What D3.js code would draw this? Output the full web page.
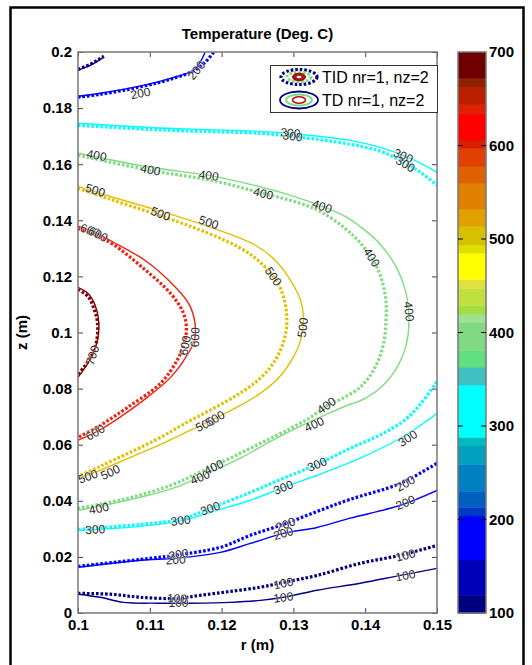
<!DOCTYPE html>
<html>
<head>
<meta charset="utf-8">
<script src="https://cdn.jsdelivr.net/npm/d3@7"></script>
<style>
  body { margin: 0; background: #fff; }
  svg { display: block; }
  text { font-family: "Liberation Sans", Arial, Helvetica, sans-serif; }
</style>
</head>
<body>
<svg id="chart" width="532" height="665"></svg>
<script>
// ---- contour levels and their line colours ----
const levels = [100, 200, 300, 400, 500, 600, 700];
const levelColors = ["#000080", "#0000ff", "#00ffff", "#80dc80", "#e0c000", "#f02010", "#800000"];

// ---- axis ticks ----
const rTicks = [0.1, 0.11, 0.12, 0.13, 0.14, 0.15];
const zTicks = [0, 0.02, 0.04, 0.06, 0.08, 0.1, 0.12, 0.14, 0.16, 0.18, 0.2];
const cbTicks = [100, 200, 300, 400, 500, 600, 700];

// ---- colorbar bands (edges in deg C, colour of each band bottom to top) ----
const cbEdges = [100, 119, 157, 204, 213, 230, 259, 279, 288, 344, 363, 381, 411, 420, 429, 447, 457,
                 485, 494, 514, 532, 560, 578, 597, 606, 634, 644, 663, 672, 700];
const cbColors = ["#000080", "#0000b8", "#0000ff", "#0038c8", "#0060c0", "#0080c0", "#00a0c0", "#00bcbc",
                  "#00ffff", "#40c0c0", "#60e080", "#80d880", "#a0e090", "#a0e040", "#c0e040", "#e0e040",
                  "#ffff00", "#e0e000", "#d8c000", "#e0a000", "#e08000", "#e06000", "#e04000", "#d82000",
                  "#ff0000", "#e02000", "#b82000", "#902000", "#700000"];

// ---- TD nr=1, nz=2 contours (solid), points are [r (m), z (m)] ----
const td100Top = [[0.1000,0.1935],[0.1017,0.1952],[0.1029,0.1970],[0.1035,0.1981]];
const td100Bot = [[0.1000,0.0067],[0.1031,0.0056],[0.1063,0.0038],[0.1111,0.0035],[0.1156,0.0035],[0.1212,0.0038],
                  [0.1254,0.0045],[0.1286,0.0056],[0.1333,0.0081],[0.1393,0.0106],[0.1449,0.0134],[0.1500,0.0159]];
const td200Top = [[0.1000,0.1842],[0.1031,0.1853],[0.1091,0.1881],[0.1129,0.1906],[0.1161,0.1935],[0.1170,0.1963],[0.1177,0.1999]];
const td200Bot = [[0.1000,0.0163],[0.1087,0.0188],[0.1136,0.0195],[0.1198,0.0216],[0.1240,0.0248],[0.1286,0.0284],
                  [0.1333,0.0305],[0.1379,0.0338],[0.1449,0.0384],[0.1500,0.0437]];
const td300Top = [[0.1000,0.1746],[0.1101,0.1731],[0.1170,0.1724],[0.1254,0.1717],[0.1310,0.1706],[0.1379,0.1685],
                  [0.1421,0.1660],[0.1449,0.1635],[0.1477,0.1604],[0.1500,0.1571]];
const td300Bot = [[0.1000,0.0295],[0.1087,0.0309],[0.1147,0.0330],[0.1184,0.0359],[0.1240,0.0402],[0.1286,0.0448],
                  [0.1333,0.0491],[0.1393,0.0552],[0.1449,0.0623],[0.1477,0.0669],[0.1500,0.0712]];
const td400 = [[0.1000,0.1639],[0.1101,0.1589],[0.1182,0.1560],[0.1240,0.1528],[0.1296,0.1489],[0.1340,0.1450],
               [0.1372,0.1414],[0.1400,0.1364],[0.1421,0.1314],[0.1442,0.1239],[0.1456,0.1150],[0.1461,0.1043],
               [0.1457,0.0954],[0.1446,0.0883],[0.1425,0.0812],[0.1400,0.0765],[0.1372,0.0737],[0.1346,0.0708],
               [0.1310,0.0666],[0.1268,0.0612],[0.1226,0.0552],[0.1184,0.0502],[0.1133,0.0445],[0.1069,0.0402],[0.1000,0.0366]];
const td500 = [[0.1000,0.1521],[0.1045,0.1485],[0.1101,0.1443],[0.1156,0.1400],[0.1212,0.1350],[0.1247,0.1311],
               [0.1275,0.1257],[0.1296,0.1186],[0.1310,0.1115],[0.1314,0.1050],[0.1310,0.0972],[0.1299,0.0908],
               [0.1279,0.0837],[0.1254,0.0783],[0.1226,0.0740],[0.1191,0.0694],[0.1156,0.0651],[0.1115,0.0601],
               [0.1073,0.0555],[0.1031,0.0509],[0.1000,0.0480]];
const td600 = [[0.1000,0.1379],[0.1024,0.1357],[0.1045,0.1328],[0.1091,0.1261],[0.1129,0.1179],[0.1154,0.1104],
               [0.1163,0.1033],[0.1162,0.0972],[0.1152,0.0919],[0.1129,0.0840],[0.1091,0.0758],[0.1052,0.0687],
               [0.1024,0.0644],[0.1000,0.0616]];
const td700 = [[0.1000,0.1161],[0.1014,0.1139],[0.1024,0.1096],[0.1029,0.1036],[0.1027,0.0972],[0.1020,0.0919],
               [0.1009,0.0872],[0.1000,0.0840]];

// ---- TID nr=1, nz=2 contours (dotted) ----
const tid100Top = [[0.1000,0.1938],[0.1017,0.1956],[0.1029,0.1974],[0.1036,0.1985]];
const tid100Bot = [[0.1000,0.0070],[0.1045,0.0067],[0.1087,0.0056],[0.1138,0.0052],[0.1170,0.0063],[0.1212,0.0077],
                   [0.1254,0.0092],[0.1286,0.0109],[0.1333,0.0134],[0.1393,0.0177],[0.1449,0.0206],[0.1500,0.0241]];
const tid200Top = [[0.1000,0.1839],[0.1031,0.1849],[0.1091,0.1878],[0.1129,0.1903],[0.1163,0.1935],[0.1177,0.1963],[0.1189,0.1999]];
const tid200Bot = [[0.1000,0.0166],[0.1087,0.0191],[0.1136,0.0206],[0.1198,0.0234],[0.1240,0.0277],[0.1286,0.0316],
                   [0.1333,0.0362],[0.1379,0.0405],[0.1449,0.0462],[0.1500,0.0534]];
const tid300Top = [[0.1000,0.1738],[0.1101,0.1724],[0.1170,0.1717],[0.1254,0.1710],[0.1310,0.1696],[0.1379,0.1671],
                   [0.1421,0.1646],[0.1449,0.1614],[0.1477,0.1571],[0.1500,0.1525]];
const tid300Bot = [[0.1000,0.0298],[0.1087,0.0316],[0.1143,0.0334],[0.1184,0.0373],[0.1240,0.0430],[0.1286,0.0480],
                   [0.1333,0.0530],[0.1379,0.0587],[0.1425,0.0640],[0.1456,0.0690],[0.1477,0.0745],[0.1500,0.0825]];
const tid400 = [[0.1000,0.1632],[0.1101,0.1578],[0.1184,0.1543],[0.1258,0.1496],[0.1310,0.1460],[0.1340,0.1428],
                [0.1372,0.1371],[0.1396,0.1311],[0.1417,0.1229],[0.1428,0.1132],[0.1429,0.1043],[0.1425,0.0954],
                [0.1413,0.0872],[0.1393,0.0805],[0.1366,0.0762],[0.1347,0.0740],[0.1324,0.0698],[0.1296,0.0658],
                [0.1254,0.0605],[0.1212,0.0552],[0.1170,0.0502],[0.1129,0.0455],[0.1069,0.0409],[0.1000,0.0373]];
const tid500 = [[0.1000,0.1514],[0.1045,0.1475],[0.1101,0.1428],[0.1156,0.1379],[0.1205,0.1328],[0.1240,0.1279],
                [0.1265,0.1221],[0.1282,0.1157],[0.1290,0.1079],[0.1290,0.1008],[0.1282,0.0937],[0.1268,0.0876],
                [0.1247,0.0822],[0.1219,0.0773],[0.1184,0.0723],[0.1149,0.0676],[0.1115,0.0626],[0.1073,0.0573],
                [0.1031,0.0523],[0.1000,0.0487]];
const tid600 = [[0.1000,0.1371],[0.1024,0.1346],[0.1049,0.1314],[0.1091,0.1229],[0.1129,0.1139],[0.1147,0.1068],
                [0.1151,0.1008],[0.1147,0.0954],[0.1138,0.0901],[0.1115,0.0819],[0.1069,0.0733],[0.1031,0.0669],[0.1000,0.0626]];
const tid700 = [[0.1000,0.1154],[0.1014,0.1128],[0.1022,0.1086],[0.1027,0.1036],[0.1026,0.0972],[0.1019,0.0919],
                [0.1009,0.0879],[0.1000,0.0851]];

// ---- inline contour labels: [level, r, z] ----
const tdLabels = [
  [100,0.1140,0.0035],[100,0.1286,0.0056],[100,0.1456,0.0134],
  [200,0.1165,0.1935],[200,0.1136,0.0190],[200,0.1286,0.0284],[200,0.1456,0.0394],
  [300,0.1296,0.1712],[300,0.1453,0.1630],[300,0.1024,0.0298],[300,0.1143,0.0330],[300,0.1286,0.0448],[300,0.1459,0.0623],
  [400,0.1026,0.1632],[400,0.1182,0.1560],[400,0.1340,0.1450],[400,0.1461,0.1075],[400,0.1329,0.0673],[400,0.1029,0.0373],[400,0.1170,0.0484],
  [500,0.1024,0.1507],[500,0.1182,0.1393],[500,0.1313,0.1018],[500,0.1177,0.0673],[500,0.1014,0.0487],
  [600,0.1017,0.1364],[600,0.1163,0.0983],[600,0.1024,0.0644],
  [700,0.1020,0.0919]
];
const tidLabels = [
  [100,0.1138,0.0052],[100,0.1286,0.0106],[100,0.1456,0.0206],
  [200,0.1087,0.1853],[200,0.1140,0.0209],[200,0.1289,0.0316],[200,0.1456,0.0462],
  [300,0.1299,0.1700],[300,0.1456,0.1600],[300,0.1184,0.0373],[300,0.1333,0.0530],
  [400,0.1101,0.1580],[400,0.1258,0.1496],[400,0.1409,0.1268],[400,0.1346,0.0740],[400,0.1189,0.0520],
  [500,0.1115,0.1424],[500,0.1272,0.1200],[500,0.1191,0.0694],[500,0.1045,0.0502],
  [600,0.1028,0.1350],[600,0.1149,0.0954]
];

const tdCurves = [
  {level:100, pts:td100Top}, {level:100, pts:td100Bot}, {level:200, pts:td200Top}, {level:200, pts:td200Bot},
  {level:300, pts:td300Top}, {level:300, pts:td300Bot}, {level:400, pts:td400}, {level:500, pts:td500},
  {level:600, pts:td600}, {level:700, pts:td700}
];
const tidCurves = [
  {level:100, pts:tid100Top}, {level:100, pts:tid100Bot}, {level:200, pts:tid200Top}, {level:200, pts:tid200Bot},
  {level:300, pts:tid300Top}, {level:300, pts:tid300Bot}, {level:400, pts:tid400}, {level:500, pts:tid500},
  {level:600, pts:tid600}, {level:700, pts:tid700}
];

// ---- layout ----
const svg = d3.select("#chart");
const plot = {left: 78, right: 437, top: 52, bottom: 613};
const cb = {left: 458, right: 486};

const x = d3.scaleLinear().domain([0.1, 0.15]).range([plot.left, plot.right]);
const y = d3.scaleLinear().domain([0, 0.2]).range([plot.bottom, plot.top]);
const yc = d3.scaleLinear().domain([100, 700]).range([plot.bottom, plot.top]);
const color = d3.scaleOrdinal().domain(levels).range(levelColors);

// outer figure frame
svg.append("rect").attr("x", 10.5).attr("y", 7.5).attr("width", 513).attr("height", 700)
  .attr("fill", "none").attr("stroke", "#000").attr("stroke-width", 2.5);

// title
svg.append("text").attr("x", (plot.left + plot.right) / 2).attr("y", 39)
  .attr("text-anchor", "middle").attr("font-size", 15).attr("font-weight", "bold")
  .text("Temperature (Deg. C)");

// clip
svg.append("defs").append("clipPath").attr("id", "plotClip")
  .append("rect").attr("x", plot.left).attr("y", plot.top)
  .attr("width", plot.right - plot.left).attr("height", plot.bottom - plot.top);

const line = d3.line().x(d => x(d[0])).y(d => y(d[1])).curve(d3.curveCatmullRom.alpha(0.5));
const g = svg.append("g").attr("clip-path", "url(#plotClip)");

g.selectAll("path.td").data(tdCurves).join("path").attr("class", "td")
  .attr("d", d => line(d.pts)).attr("fill", "none")
  .attr("stroke", d => color(d.level)).attr("stroke-width", 1.4);

g.selectAll("path.tid").data(tidCurves).join("path").attr("class", "tid")
  .attr("d", d => line(d.pts)).attr("fill", "none")
  .attr("stroke", d => color(d.level)).attr("stroke-width", 3.2)
  .attr("stroke-dasharray", "2.6,1.9");

// label angle follows the nearest segment of a curve with that level
function labelAngle(curves, level, px, py) {
  let best = Infinity, ang = 0;
  curves.filter(c => c.level === level).forEach(c => {
    for (let i = 0; i < c.pts.length - 1; i++) {
      const ax = x(c.pts[i][0]), ay = y(c.pts[i][1]);
      const bx = x(c.pts[i + 1][0]), by = y(c.pts[i + 1][1]);
      const dx = bx - ax, dy = by - ay;
      const len2 = dx * dx + dy * dy || 1;
      let t = ((px - ax) * dx + (py - ay) * dy) / len2;
      t = Math.max(0, Math.min(1, t));
      const qx = ax + t * dx - px, qy = ay + t * dy - py;
      const dist = qx * qx + qy * qy;
      if (dist < best) { best = dist; ang = Math.atan2(dy, dx) * 180 / Math.PI; }
    }
  });
  if (ang > 90) ang -= 180;
  if (ang < -90) ang += 180;
  return ang;
}

function drawLabels(labels, curves) {
  labels.forEach(([lev, r, z]) => {
    const px = x(r), py = y(z);
    const a = labelAngle(curves, lev, px, py);
    svg.append("text")
      .attr("transform", `translate(${px},${py}) rotate(${a})`)
      .attr("text-anchor", "middle").attr("dy", "0.35em")
      .attr("font-size", 12).attr("fill", "#2a2a2a")
      .attr("stroke", "#fff").attr("stroke-width", 1.2).attr("stroke-opacity", 0.55)
      .attr("paint-order", "stroke")
      .text(lev);
  });
}
drawLabels(tdLabels, tdCurves);
drawLabels(tidLabels, tidCurves);

// axes (inward ticks on all four sides)
const fmt = d => String(+d.toFixed(2));
const axFont = sel => sel.selectAll("text").attr("font-size", 15).attr("font-weight", "bold")
  .attr("fill", "#000").attr("font-family", "Liberation Sans, Arial, sans-serif");

const xb = svg.append("g").attr("transform", `translate(0,${plot.bottom})`)
  .call(d3.axisBottom(x).tickValues(rTicks).tickFormat(fmt).tickSizeInner(-5).tickSizeOuter(0).tickPadding(6));
const xt = svg.append("g").attr("transform", `translate(0,${plot.top})`)
  .call(d3.axisTop(x).tickValues(rTicks).tickFormat("").tickSizeInner(-5).tickSizeOuter(0));
const yl = svg.append("g").attr("transform", `translate(${plot.left},0)`)
  .call(d3.axisLeft(y).tickValues(zTicks).tickFormat(fmt).tickSizeInner(-5).tickSizeOuter(0).tickPadding(6));
const yr = svg.append("g").attr("transform", `translate(${plot.right},0)`)
  .call(d3.axisRight(y).tickValues(zTicks).tickFormat("").tickSizeInner(-5).tickSizeOuter(0));
[xb, xt, yl, yr].forEach(a => {
  a.select(".domain").remove();
  a.selectAll("line").attr("stroke", "#444").attr("stroke-width", 1);
  axFont(a);
});

svg.append("rect").attr("x", plot.left).attr("y", plot.top)
  .attr("width", plot.right - plot.left).attr("height", plot.bottom - plot.top)
  .attr("fill", "none").attr("stroke", "#777").attr("stroke-width", 1.5);

svg.append("text").attr("x", (plot.left + plot.right) / 2).attr("y", 650)
  .attr("text-anchor", "middle").attr("font-size", 15).attr("font-weight", "bold").text("r (m)");
svg.append("text").attr("transform", `translate(27,${(plot.top + plot.bottom) / 2}) rotate(-90)`)
  .attr("text-anchor", "middle").attr("font-size", 15).attr("font-weight", "bold").text("z (m)");

// colorbar
const bands = cbColors.map((c, i) => ({c, lo: cbEdges[i], hi: cbEdges[i + 1]}));
svg.append("g").selectAll("rect").data(bands).join("rect")
  .attr("x", cb.left).attr("width", cb.right - cb.left)
  .attr("y", d => yc(d.hi)).attr("height", d => yc(d.lo) - yc(d.hi) + 0.5)
  .attr("fill", d => d.c);
svg.append("rect").attr("x", cb.left).attr("y", plot.top)
  .attr("width", cb.right - cb.left).attr("height", plot.bottom - plot.top)
  .attr("fill", "none").attr("stroke", "#777").attr("stroke-width", 1.5);
const cbInner = cbTicks.slice(1, -1);
svg.append("g").selectAll("line.cl").data(cbInner).join("line")
  .attr("x1", cb.left).attr("x2", cb.left + 5).attr("y1", d => yc(d)).attr("y2", d => yc(d))
  .attr("stroke", "#000").attr("stroke-width", 1);
svg.append("g").selectAll("line.cr").data(cbInner).join("line")
  .attr("x1", cb.right - 5).attr("x2", cb.right).attr("y1", d => yc(d)).attr("y2", d => yc(d))
  .attr("stroke", "#000").attr("stroke-width", 1);
svg.append("g").selectAll("text").data(cbTicks).join("text")
  .attr("x", cb.right + 3).attr("y", d => yc(d)).attr("dy", "0.35em")
  .attr("font-size", 15).attr("font-weight", "bold").text(d => d);

// legend
const lg = svg.append("g");
lg.append("rect").attr("x", 270.5).attr("y", 65.5).attr("width", 167).attr("height", 47)
  .attr("fill", "#fff").attr("stroke", "#333").attr("stroke-width", 1);
const legendItems = [
  {name: "TID nr=1, nz=2", cy: 77, dotted: true},
  {name: "TD nr=1, nz=2", cy: 100, dotted: false}
];
legendItems.forEach(it => {
  const cx = 299;
  const e = (rx, ry, stroke, sw, fill) => {
    const el = lg.append("ellipse").attr("cx", cx).attr("cy", it.cy).attr("rx", rx).attr("ry", ry)
      .attr("fill", fill).attr("stroke", stroke).attr("stroke-width", sw);
    if (it.dotted) el.attr("stroke-dasharray", "2.6,1.9");
    return el;
  };
  if (it.dotted) {
    e(18, 7.5, color(100), 3.2, "none");
    e(12, 4.8, color(400), 3, "none");
    lg.append("ellipse").attr("cx", cx).attr("cy", it.cy).attr("rx", 6.5).attr("ry", 3.8)
      .attr("fill", "#b01010").attr("stroke", "#900").attr("stroke-width", 1);
    lg.append("ellipse").attr("cx", cx).attr("cy", it.cy).attr("rx", 2.5).attr("ry", 1.2).attr("fill", "#fff");
  } else {
    e(19, 8.5, color(100), 1.8, "none");
    e(13, 5.5, color(400), 1.8, "none");
    e(6.5, 3.2, "#c01010", 1.6, "#fff");
  }
  lg.append("text").attr("x", 322).attr("y", it.cy).attr("dy", "0.36em")
    .attr("font-size", 16).attr("fill", "#000").text(it.name);
});
</script>
</body>
</html>
